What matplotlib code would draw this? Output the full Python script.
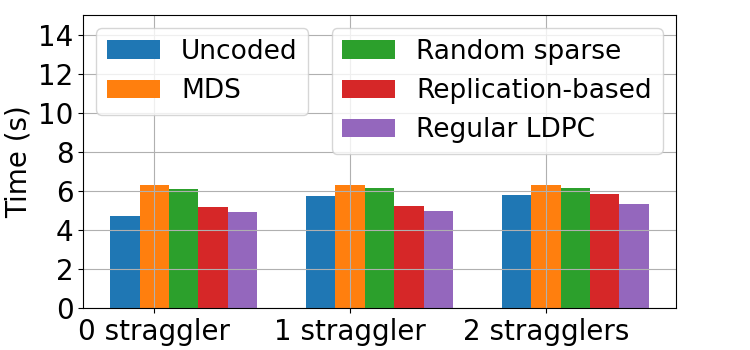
import matplotlib
matplotlib.use("Agg")
import matplotlib.pyplot as plt
import numpy as np

categories = ["0 straggler", "1 straggler", "2 stragglers"]
uncoded = [4.70, 5.72, 5.77]
mds = [6.28, 6.28, 6.28]
random_sparse = [6.08, 6.13, 6.13]
replication = [5.16, 5.21, 5.83]
ldpc = [4.90, 4.96, 5.31]

series = [
    ("Uncoded", uncoded, "#1f77b4"),
    ("MDS", mds, "#ff7f0e"),
    ("Random sparse", random_sparse, "#2ca02c"),
    ("Replication-based", replication, "#d62728"),
    ("Regular LDPC", ldpc, "#9467bd"),
]

fig = plt.figure(figsize=(7.5, 3.5), dpi=100)
ax = fig.add_axes([0.111, 0.12, 0.79, 0.837])

x = np.arange(len(categories))
w = 0.15
handles = []
for i, (name, vals, col) in enumerate(series):
    h = ax.bar(x + (i - 1) * w, vals, w, color=col, label=name)
    handles.append(h)

ax.set_xticks(x)
ax.set_xticklabels(categories, fontsize=20)
ax.set_ylim(0, 15)
ax.set_yticks(np.arange(0, 15, 2))
ax.tick_params(axis='y', labelsize=20)
ax.set_ylabel("Time (s)", fontsize=20)
ax.grid(True)

leg1 = ax.legend(handles[:2], [s[0] for s in series[:2]], loc="upper left", fontsize=19)
ax.add_artist(leg1)
ax.legend(handles[2:], [s[0] for s in series[2:]], loc="upper right", fontsize=19)

fig.savefig("out.png", dpi=100)
